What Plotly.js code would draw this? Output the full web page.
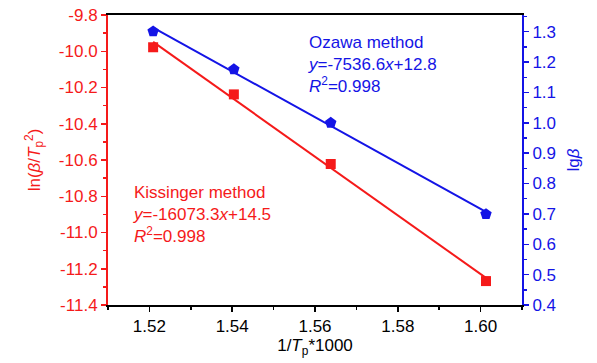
<!DOCTYPE html>
<html><head><meta charset="utf-8">
<script src="https://cdn.plot.ly/plotly-3.0.1.min.js"></script>
<style>html,body{margin:0;padding:0;background:#fff;}#chart{width:597px;height:363px;}</style>
</head><body><div id="chart"></div>
<script>
// Data
const invTp = [1.5209, 1.5404, 1.5638, 1.6013];          // 1/Tp*1000
const kissinger = [-9.978, -10.238, -10.622, -11.268];    // ln(beta/Tp^2)
const ozawa = [1.301, 1.176, 1.000, 0.699];               // lg(beta)
const xTicks = [1.52, 1.54, 1.56, 1.58, 1.60];
const xTickText = ['1.52', '1.54', '1.56', '1.58', '1.60'];
const yTicks = [-11.4, -11.2, -11.0, -10.8, -10.6, -10.4, -10.2, -10.0, -9.8];
const yTickText = ['-11.4', '-11.2', '-11.0', '-10.8', '-10.6', '-10.4', '-10.2', '-10.0', '-9.8'];
const y2Ticks = [0.4, 0.5, 0.6, 0.7, 0.8, 0.9, 1.0, 1.1, 1.2, 1.3];
const y2TickText = ['0.4', '0.5', '0.6', '0.7', '0.8', '0.9', '1.0', '1.1', '1.2', '1.3'];

function fit(x, y) {
  const n = x.length;
  const mx = x.reduce((a,b)=>a+b,0)/n, my = y.reduce((a,b)=>a+b,0)/n;
  let sxy=0, sxx=0;
  for (let i=0;i<n;i++){ sxy+=(x[i]-mx)*(y[i]-my); sxx+=(x[i]-mx)**2; }
  const k = sxy/sxx, b = my-k*mx;
  const xs = [x[0], x[n-1]];
  return {x: xs, y: xs.map(v=>k*v+b)};
}
const RED = '#f51a1a', BLUE = '#1414e6';
const FAM = 'Liberation Sans, Arial, sans-serif';
const fk = fit(invTp, kissinger), fo = fit(invTp, ozawa);
const tickFont = {family: FAM, size: 17};
const traces = [
  {x: fk.x, y: fk.y, mode: 'lines', line: {color: RED, width: 2}, yaxis: 'y', hoverinfo: 'skip'},
  {x: fo.x, y: fo.y, mode: 'lines', line: {color: BLUE, width: 2}, yaxis: 'y2', hoverinfo: 'skip'},
  {x: invTp, y: kissinger, mode: 'markers', marker: {symbol: 'square', size: 10, color: RED}, yaxis: 'y'},
  {x: invTp, y: ozawa, mode: 'markers', marker: {symbol: 'pentagon', size: 12, color: BLUE}, yaxis: 'y2'}
];
const layout = {
  width: 597, height: 363,
  margin: {l: 108, r: 75, t: 15, b: 58},
  paper_bgcolor: '#fff', plot_bgcolor: '#fff',
  showlegend: false,
  font: {family: FAM},
  xaxis: {
    range: [1.51, 1.61], tickmode: 'array', tickvals: xTicks, ticktext: xTickText,
    showgrid: false, zeroline: false, showline: true, linecolor: '#000', linewidth: 2, mirror: true,
    ticks: 'outside', ticklen: 5, tickwidth: 1.5, tickcolor: '#000',
    minor: {dtick: 0.01, ticks: 'outside', ticklen: 3, tickcolor: '#000', showgrid: false},
    tickfont: Object.assign({}, tickFont, {color: '#000'}),
    title: {text: '1/<i>T</i><sub>p</sub>*1000', font: {family: FAM, size: 17, color: '#000'}, standoff: 2}
  },
  yaxis: {
    range: [-11.4, -9.8], tickmode: 'array', tickvals: yTicks, ticktext: yTickText,
    showgrid: false, zeroline: false, showline: true, linecolor: RED, linewidth: 2,
    ticks: 'outside', ticklen: 5, tickwidth: 1.5, tickcolor: RED,
    minor: {dtick: 0.1, ticks: 'outside', ticklen: 3, tickcolor: RED, showgrid: false},
    tickfont: Object.assign({}, tickFont, {color: RED}),
    title: {text: 'ln(<i>β</i>/<i>T</i><sub>p</sub><sup>2</sup>)', font: {family: FAM, size: 17, color: RED}, standoff: 14}
  },
  yaxis2: {
    overlaying: 'y', side: 'right',
    range: [0.4, 1.355], tickmode: 'array', tickvals: y2Ticks, ticktext: y2TickText,
    showgrid: false, zeroline: false, showline: true, linecolor: BLUE, linewidth: 2,
    ticks: 'outside', ticklen: 5, tickwidth: 1.5, tickcolor: BLUE,
    minor: {dtick: 0.05, ticks: 'outside', ticklen: 3, tickcolor: BLUE, showgrid: false},
    tickfont: Object.assign({}, tickFont, {color: BLUE}),
    title: {text: 'lg<i>β</i>', font: {family: FAM, size: 17, color: BLUE}, standoff: 12}
  },
  annotations: [
    {xref: 'paper', yref: 'paper', x: (306-108)/414, y: (305-31)/290, xanchor: 'left', yanchor: 'top', align: 'left', showarrow: false,
     text: 'Ozawa method<br><i>y</i>=-7536.6<i>x</i>+12.8<br><i>R</i><sup>2</sup>=0.998',
     font: {family: FAM, size: 17, color: BLUE}},
    {xref: 'paper', yref: 'paper', x: (131-108)/414, y: (305-181)/290, xanchor: 'left', yanchor: 'top', align: 'left', showarrow: false,
     text: 'Kissinger method<br><i>y</i>=-16073.3<i>x</i>+14.5<br><i>R</i><sup>2</sup>=0.998',
     font: {family: FAM, size: 17, color: RED}}
  ]
};
Plotly.newPlot('chart', traces, layout, {displayModeBar: false, staticPlot: true});
</script></body></html>
